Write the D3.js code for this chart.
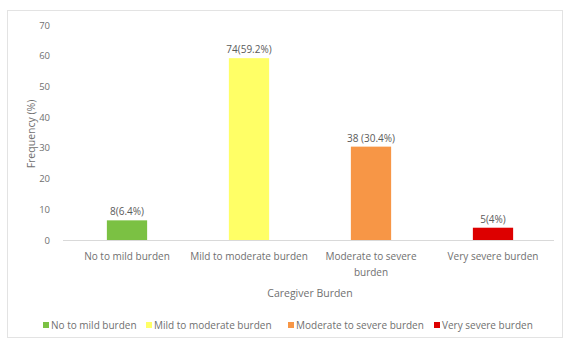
<!DOCTYPE html>
<html><head><meta charset="utf-8">
<script src="https://cdn.jsdelivr.net/npm/d3@7"></script>
<style>body{margin:0;background:#fff;}
svg text{font-family:"Open Sans","Liberation Sans",Arial,sans-serif;}</style>
</head><body>
<svg id="c" width="565" height="340"></svg>
<script>
const categories = ["No to mild burden","Mild to moderate burden","Moderate to severe burden","Very severe burden"];
const values = [6.4, 59.2, 30.4, 4];
const labels = ["8(6.4%)","74(59.2%)","38 (30.4%)","5(4%)"];
const colors = ["#7bc143","#ffff66","#f79646","#dd0000"];
const yTicks = [0,10,20,30,40,50,60,70];
const xLines = [["No to mild burden"],["Mild to moderate burden"],["Moderate to severe","burden"],["Very severe burden"]];

const svg = d3.select("#c");
svg.append("rect").attr("x",7.5).attr("y",10.5).attr("width",555).attr("height",327)
  .attr("fill","#fff").attr("stroke","#e3e3e3");

const x = d3.scaleBand().domain(categories).range([66,554]).paddingInner(0.67).paddingOuter(0.335);
const y = d3.scaleLinear().domain([0,70]).range([240,25]);

const txt = "#707070";
const fs = "10px";
// y axis
const ya = svg.append("g").attr("transform","translate(54,0)")
  .call(d3.axisLeft(y).tickValues(yTicks).tickSize(0).tickPadding(4));
ya.select(".domain").remove();
ya.selectAll("text").attr("fill",txt).style("font-size","9.5px").style("font-family",null);

// baseline
svg.append("line").attr("x1",63).attr("x2",554).attr("y1",y(0)+0.5).attr("y2",y(0)+0.5)
  .attr("stroke","#d9d9d9");

// bars
svg.selectAll(".bar").data(values).join("rect")
  .attr("x",(d,i)=>x(categories[i])).attr("width",x.bandwidth())
  .attr("y",d=>y(d)).attr("height",d=>y(0)-y(d)).attr("fill",(d,i)=>colors[i]);

svg.selectAll(".lab").data(values).join("text")
  .attr("x",(d,i)=>x(categories[i])+x.bandwidth()/2).attr("y",d=>y(d)-5)
  .attr("text-anchor","middle").attr("fill","#5a5a5a").style("font-size",fs)
  .text((d,i)=>labels[i]);

// x labels
categories.forEach((c,i)=>{
  const t = svg.append("text").attr("text-anchor","middle").attr("fill",txt)
    .style("font-size",fs);
  xLines[i].forEach((l,j)=>{
    t.append("tspan").attr("x",x(c)+x.bandwidth()/2).attr("y",260+j*16).text(l);
  });
});

// axis titles
svg.append("text").attr("x",310).attr("y",297).attr("text-anchor","middle").attr("fill",txt)
  .style("font-size","10.5px").text("Caregiver Burden");
svg.append("text").attr("transform","translate(35,134) rotate(-90)").attr("text-anchor","middle").attr("fill",txt)
  .style("font-size","10.5px").text("Frequency (%)");

// legend
const legX = [43,146,288,434];
categories.forEach((c,i)=>{
  svg.append("rect").attr("x",legX[i]).attr("y",322).attr("width",6).attr("height",6).attr("fill",colors[i]);
  svg.append("text").attr("x",legX[i]+8).attr("y",328.5).attr("fill",txt)
    .style("font-size",fs).text(c);
});
</script>
</body></html>
